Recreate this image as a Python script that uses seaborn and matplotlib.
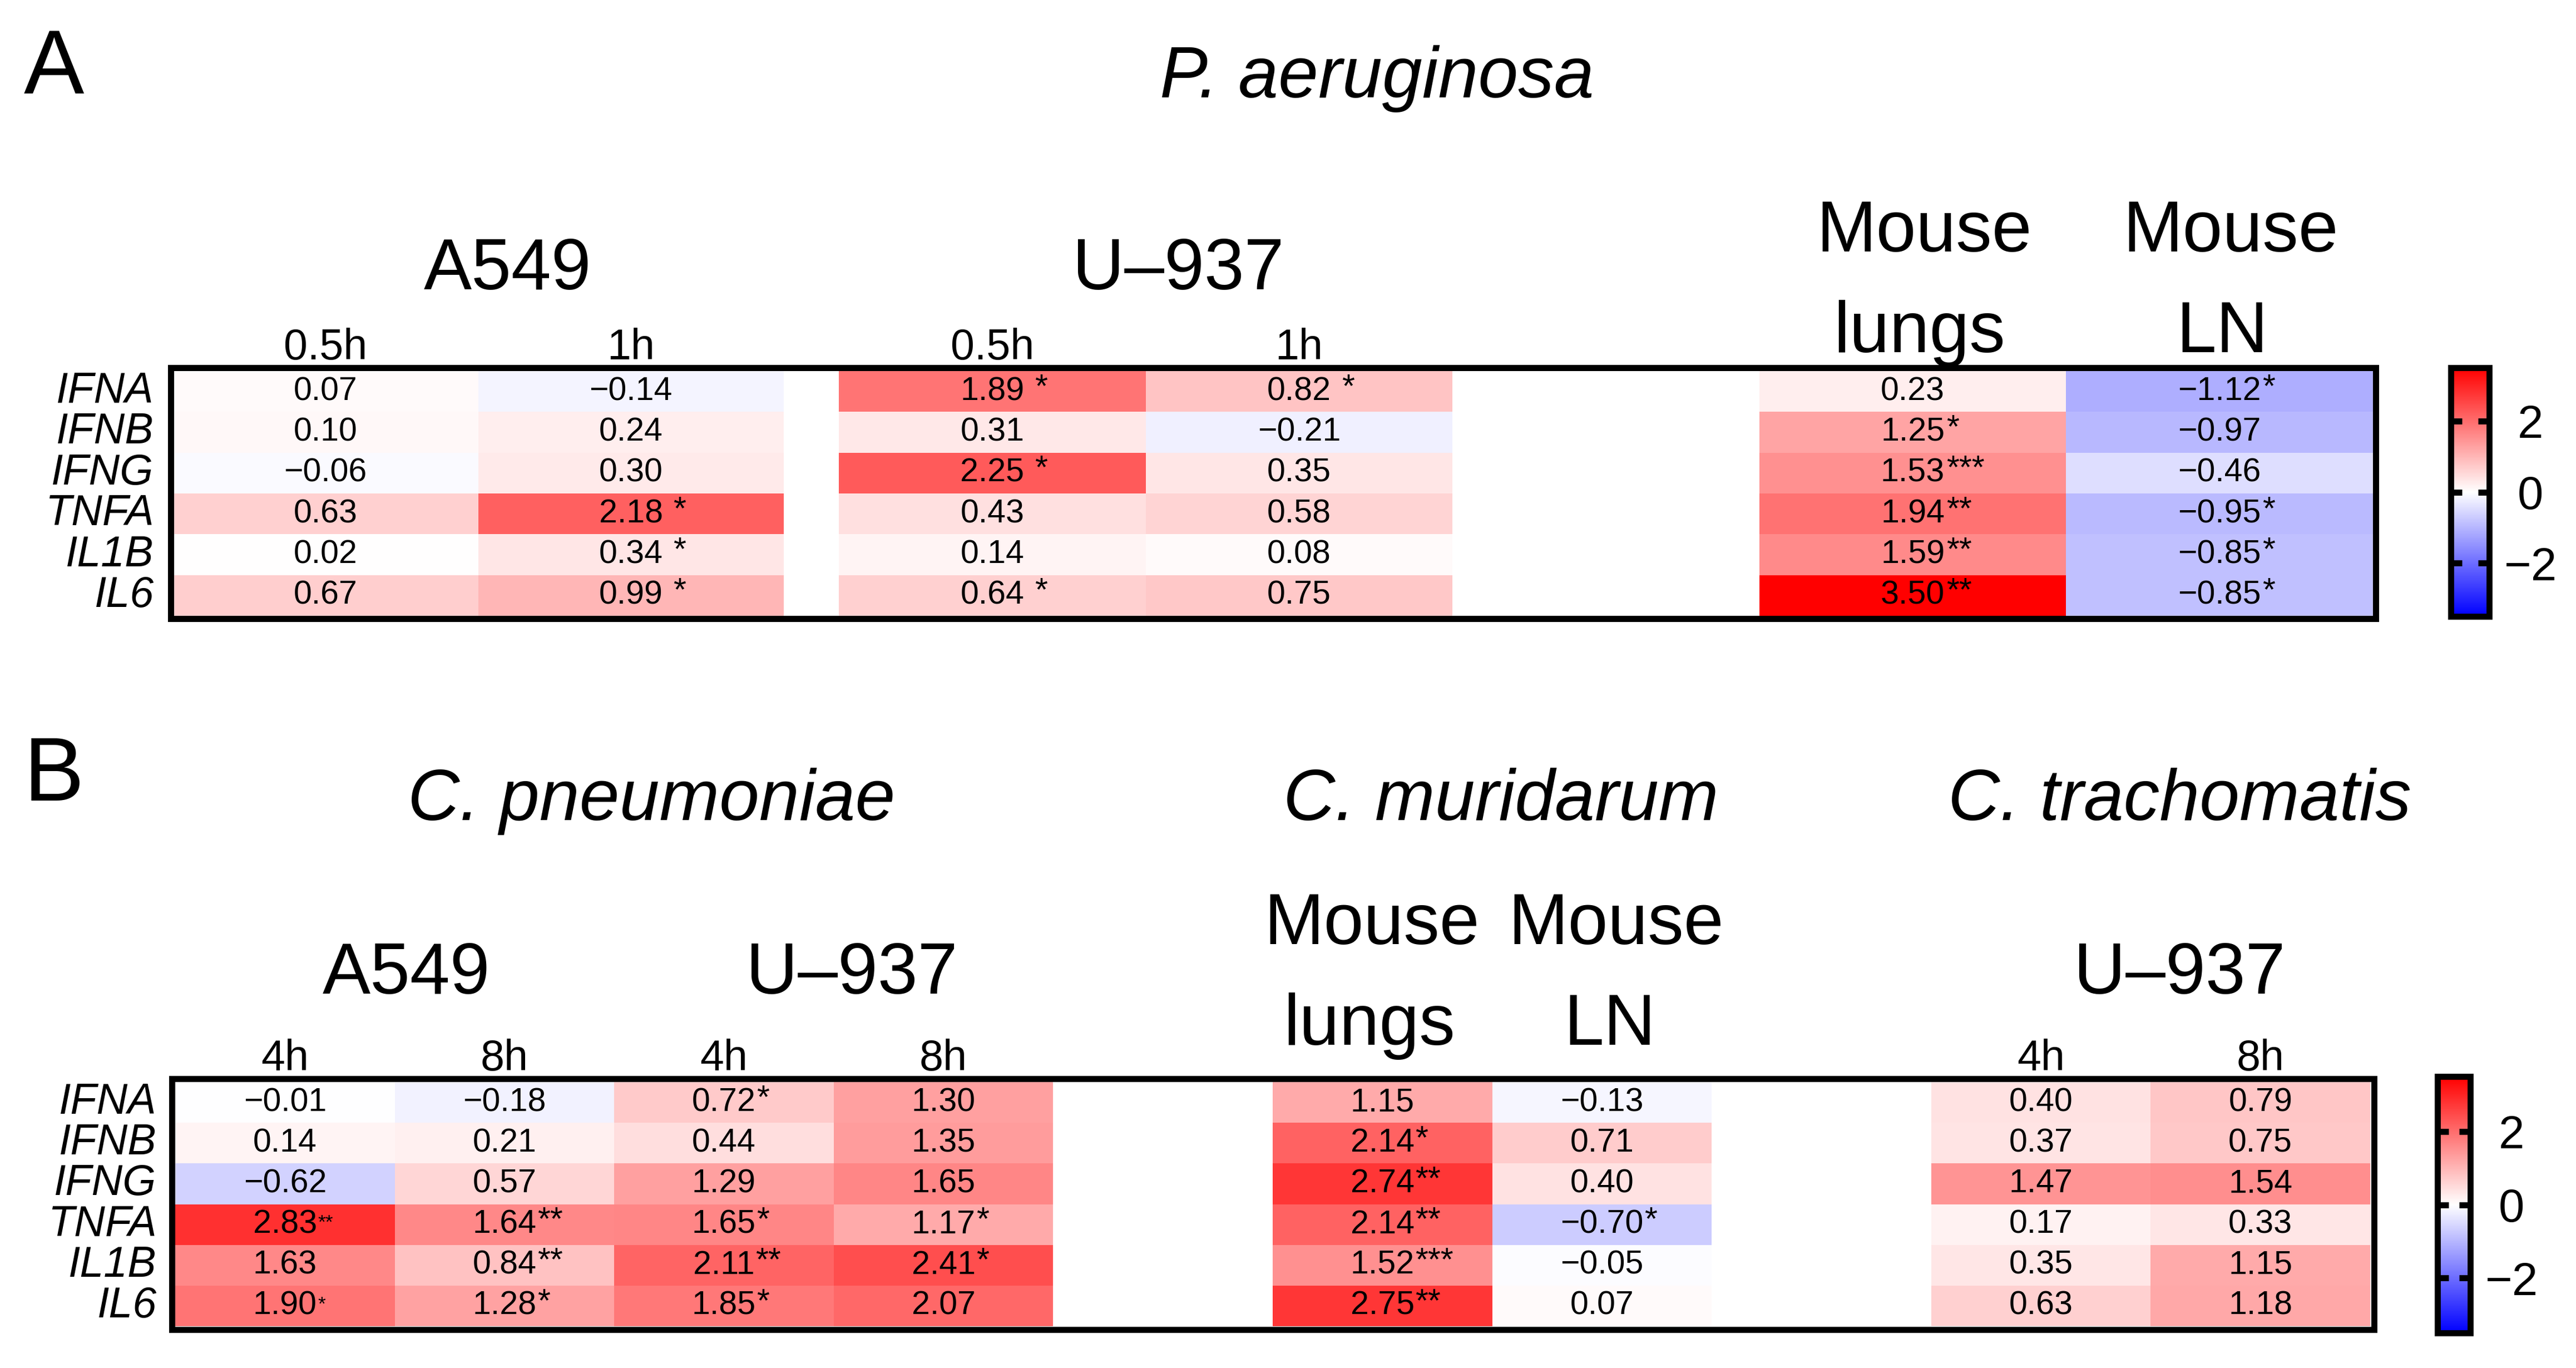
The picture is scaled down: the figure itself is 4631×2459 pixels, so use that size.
import numpy as np
import pandas as pd
import matplotlib
matplotlib.use("Agg")
import matplotlib.pyplot as plt
import seaborn as sns

# rows of both heatmaps
genes = ["IFNA", "IFNB", "IFNG", "TNFA", "IL1B", "IL6"]

# --- panel A: P. aeruginosa (log fold change) ---
pa_a549_05h = [0.07, 0.10, -0.06, 0.63, 0.02, 0.67]
pa_a549_1h = [-0.14, 0.24, 0.30, 2.18, 0.34, 0.99]
pa_u937_05h = [1.89, 0.31, 2.25, 0.43, 0.14, 0.64]
pa_u937_1h = [0.82, -0.21, 0.35, 0.58, 0.08, 0.75]
pa_lungs = [0.23, 1.25, 1.53, 1.94, 1.59, 3.50]
pa_ln = [-1.12, -0.97, -0.46, -0.95, -0.85, -0.85]

pa_a549_05h_sig = ["", "", "", "", "", ""]
pa_a549_1h_sig = ["", "", "", "*", "*", "*"]
pa_u937_05h_sig = ["*", "", "*", "", "", "*"]
pa_u937_1h_sig = ["*", "", "", "", "", ""]
pa_lungs_sig = ["", "*", "***", "**", "**", "**"]
pa_ln_sig = ["*", "", "", "*", "*", "*"]

# --- panel B: Chlamydia ---
cp_a549_4h = [-0.01, 0.14, -0.62, 2.83, 1.63, 1.90]
cp_a549_8h = [-0.18, 0.21, 0.57, 1.64, 0.84, 1.28]
cp_u937_4h = [0.72, 0.44, 1.29, 1.65, 2.11, 1.85]
cp_u937_8h = [1.30, 1.35, 1.65, 1.17, 2.41, 2.07]
cm_lungs = [1.15, 2.14, 2.74, 2.14, 1.52, 2.75]
cm_ln = [-0.13, 0.71, 0.40, -0.70, -0.05, 0.07]
ct_u937_4h = [0.40, 0.37, 1.47, 0.17, 0.35, 0.63]
ct_u937_8h = [0.79, 0.75, 1.54, 0.33, 1.15, 1.18]

cp_a549_4h_sig = ["", "", "", "**", "", "*"]
cp_a549_8h_sig = ["", "", "", "**", "**", "*"]
cp_u937_4h_sig = ["*", "", "", "*", "**", "*"]
cp_u937_8h_sig = ["", "", "", "*", "*", ""]
cm_lungs_sig = ["", "*", "**", "**", "***", "**"]
cm_ln_sig = ["", "", "", "*", "", ""]
ct_u937_4h_sig = [""] * 6
ct_u937_8h_sig = [""] * 6

# cells whose stars are printed small in panel B
small_stars_b = [(3, 0), (5, 0)]

gap = [np.nan] * 6
blank = [""] * 6

W, H, DPI = 4631, 2459, 300
CMAP, VMIN, VMAX = "bwr", -3.5, 3.5

sns.set_style("white")
plt.rcParams["font.family"] = ["Liberation Sans", "DejaVu Sans"]
plt.rcParams["axes.unicode_minus"] = True
for k in ["text.color", "axes.labelcolor", "xtick.color", "ytick.color"]:
    plt.rcParams[k] = "black"

fig = plt.figure(figsize=(W / DPI, H / DPI), dpi=DPI)


def rect(x0, y0, x1, y1):
    # pixel box -> figure fraction
    return [x0 / W, 1 - y1 / H, (x1 - x0) / W, (y1 - y0) / H]


def fmt(v):
    return "" if pd.isna(v) else f"{v:.2f}".replace("-", "\u2212")


def draw_block(ax, values, sigs, xlabels, gaps, show_genes=True, cax=None, small=()):
    labels = values.map(fmt).values
    sns.heatmap(values, ax=ax, cmap=CMAP, vmin=VMIN, vmax=VMAX,
                annot=labels, fmt="",
                annot_kws=dict(fontsize=14.2, color="black"),
                cbar=cax is not None, cbar_ax=cax,
                cbar_kws=dict(ticks=[-2, 0, 2]),
                xticklabels=xlabels,
                yticklabels=genes if show_genes else False)
    ax.xaxis.tick_top()
    ax.tick_params(axis="x", length=0, pad=1.2, labelsize=18.5)
    ax.tick_params(axis="y", length=0, pad=8, labelsize=18.5)
    for t in ax.get_yticklabels():
        t.set_rotation(0)
        t.set_fontstyle("italic")
    # significance stars next to the centred numbers
    for t in list(ax.texts):
        x, y = t.get_position()
        c, r = int(x), int(y)
        s = sigs.iat[r, c]
        if not s:
            continue
        if (r, c) in small:
            ax.annotate(s, xy=(1, 0.55), xycoords=t, xytext=(0.3, 0),
                        textcoords="offset points", ha="left", va="center",
                        fontsize=8.5, color="black")
        else:
            ax.annotate(s, xy=(1, 1), xycoords=t, xytext=(gaps[c], 1.5),
                        textcoords="offset points", ha="left", va="top",
                        fontsize=14.2, color="black")
    if cax is not None:
        cb = ax.collections[0].colorbar
        cb.outline.set_linewidth(2.6)
        cb.outline.set_edgecolor("black")
        cax.set_axisbelow(False)
        cax.tick_params(axis="y", direction="in", left=True, right=True,
                        labelleft=False, labelright=True,
                        length=4.8, width=2.6, labelsize=20, pad=17.8,
                        color="black")
        plt.setp(cax.get_yticklabels(), ha="center")


def frame(x0, y0, x1, y1):
    fr = fig.add_axes(rect(x0, y0, x1, y1), zorder=5)
    fr.patch.set_visible(False)
    fr.set_xticks([])
    fr.set_yticks([])
    for sp in fr.spines.values():
        sp.set_visible(True)
        sp.set_linewidth(2.64)
        sp.set_color("black")
    return fr


# ---------------- panel A ----------------
pa_left = pd.DataFrame({"0.5h": pa_a549_05h, "1h": pa_a549_1h}, index=genes)
pa_left_sig = pd.DataFrame({"0.5h": pa_a549_05h_sig, "1h": pa_a549_1h_sig}, index=genes)
pa_right = pd.DataFrame({"0.5h": pa_u937_05h, "1h": pa_u937_1h, "gap": gap,
                         "lungs": pa_lungs, "LN": pa_ln}, index=genes)
pa_right_sig = pd.DataFrame({"0.5h": pa_u937_05h_sig, "1h": pa_u937_1h_sig, "gap": blank,
                             "lungs": pa_lungs_sig, "LN": pa_ln_sig}, index=genes)

axA1 = fig.add_axes(rect(310, 667, 1409, 1107))
axA2 = fig.add_axes(rect(1508, 667, 4266, 1107))
caxA = fig.add_axes(rect(4406, 661, 4475, 1108))
draw_block(axA1, pa_left, pa_left_sig, ["0.5h", "1h"], [4.5, 4.5])
draw_block(axA2, pa_right, pa_right_sig, ["0.5h", "1h", "", "", ""],
           [4.5, 4.5, 0, 0.6, 0.6], show_genes=False, cax=caxA)
frame(307, 661, 4271, 1112)

# ---------------- panel B ----------------
pb = pd.DataFrame({"a4": cp_a549_4h, "a8": cp_a549_8h, "u4": cp_u937_4h, "u8": cp_u937_8h,
                   "g1": gap, "lungs": cm_lungs, "LN": cm_ln, "g2": gap,
                   "t4": ct_u937_4h, "t8": ct_u937_8h}, index=genes)
pb_sig = pd.DataFrame({"a4": cp_a549_4h_sig, "a8": cp_a549_8h_sig, "u4": cp_u937_4h_sig,
                       "u8": cp_u937_8h_sig, "g1": blank, "lungs": cm_lungs_sig,
                       "LN": cm_ln_sig, "g2": blank, "t4": ct_u937_4h_sig,
                       "t8": ct_u937_8h_sig}, index=genes)

axB = fig.add_axes(rect(315, 1945, 4261, 2384))
caxB = fig.add_axes(rect(4382, 1935, 4441, 2396))
draw_block(axB, pb, pb_sig, ["4h", "8h", "4h", "8h", "", "", "", "", "4h", "8h"],
           [0.3] * 10, cax=caxB, small=small_stars_b)
frame(309, 1939, 4268, 2390)


# ---------------- headings ----------------
def label(x, y, s, size=31, italic=False, ha="center"):
    fig.text(x / W, 1 - y / H, s, ha=ha, va="baseline", fontsize=size,
             fontstyle="italic" if italic else "normal", color="black")


label(43, 168, "A", size=39, ha="left")
label(2475, 175, "P. aeruginosa", italic=True)
label(912, 520, "A549")
label(2118, 520, "U\u2013937")
label(3459, 452, "Mouse")
label(3451, 633, "lungs")
label(4010, 452, "Mouse")
label(3995, 633, "LN")

label(43, 1439, "B", size=39, ha="left")
label(1171, 1474, "C. pneumoniae", italic=True)
label(2698, 1474, "C. muridarum", italic=True)
label(3918, 1474, "C. trachomatis", italic=True)
label(730, 1786, "A549")
label(1531, 1786, "U\u2013937")
label(2466, 1697, "Mouse")
label(2462, 1878, "lungs")
label(2905, 1697, "Mouse")
label(2894, 1878, "LN")
label(3918, 1786, "U\u2013937")

fig.savefig("out.png", dpi=DPI)
